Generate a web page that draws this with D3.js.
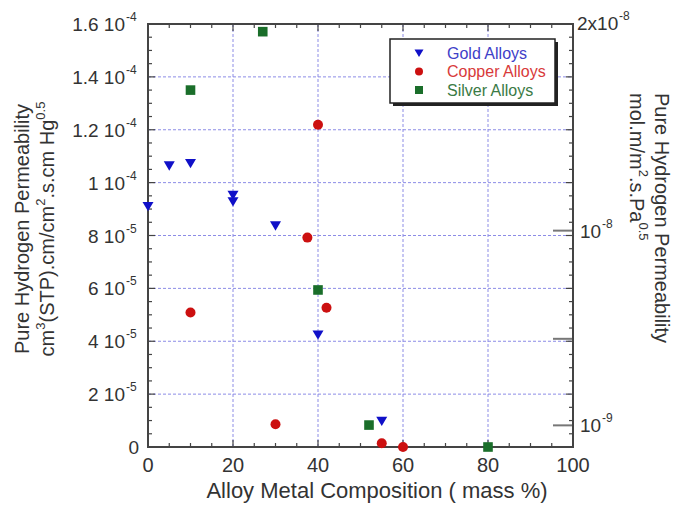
<!DOCTYPE html>
<html>
<head>
<meta charset="utf-8">
<script src="https://cdn.jsdelivr.net/npm/d3@7/dist/d3.min.js"></script>
<style>
  html, body { margin: 0; padding: 0; background: #fff; }
  svg { display: block; font-family: "Liberation Sans", Arial, sans-serif; }
</style>
</head>
<body>
<svg id="chart" width="678" height="511"></svg>
<script>
// Alloy composition (mass %) and pure hydrogen permeability, cm3(STP).cm/cm2.s.cmHg^0.5
const goldX   = [0, 5, 10, 20, 20, 30, 40, 55];
const goldY   = [0.91e-4, 1.064e-4, 1.073e-4, 0.953e-4, 0.928e-4, 0.837e-4, 0.424e-4, 0.098e-4];
const copperX = [40, 37.5, 10, 42, 30, 55, 60];
const copperY = [1.219e-4, 0.792e-4, 0.509e-4, 0.527e-4, 0.086e-4, 0.014e-4, 0];
const silverX = [27, 10, 40, 52, 80];
const silverY = [1.571e-4, 1.350e-4, 0.594e-4, 0.083e-4, 0];

const xTicks = [0, 20, 40, 60, 80, 100];
const yTicks = [0, 2e-5, 4e-5, 6e-5, 8e-5, 1e-4, 1.2e-4, 1.4e-4, 1.6e-4];
const yTickMant = ["0", "2", "4", "6", "8", "1", "1.2", "1.4", "1.6"];
const yTickExp  = ["", "-5", "-5", "-5", "-5", "-4", "-4", "-4", "-4"];
const rightTicks = [1e-9, 5e-9, 1e-8];
const rightTickMant = ["10", "", "10"];
const rightTickExp  = ["-9", "", "-8"];
const seriesNames = ["Gold Alloys", "Copper Alloys", "Silver Alloys"];

// cm3(STP).cm/cm2.s.cmHg^0.5  ->  mol.m/m2.s.Pa^0.5
const unitFactor = (1 / 22414) * 100 / Math.sqrt(1333.22);

const svg = d3.select("#chart");
const L = 148, R = 573, T = 24, B = 447;

const x = d3.scaleLinear().domain([0, 100]).range([L, R]);
const y = d3.scaleLinear().domain([0, 1.6e-4]).range([B, T]);
const yR = d3.scaleLinear().domain([0, 1.6e-4 * unitFactor]).range([B, T]);

const axisCol = "#444";
const textCol = "#333";

// grid
const grid = svg.append("g");
[20, 40, 60, 80].forEach(v => grid.append("line")
  .attr("x1", x(v)).attr("x2", x(v)).attr("y1", T).attr("y2", B)
  .attr("stroke", "#8c8ce6").attr("stroke-width", 1).attr("stroke-dasharray", "3,2"));
yTicks.slice(1, -1).forEach(v => grid.append("line")
  .attr("x1", L).attr("x2", R).attr("y1", y(v)).attr("y2", y(v))
  .attr("stroke", "#8c8ce6").attr("stroke-width", 1).attr("stroke-dasharray", "3,2"));

// minor / major ticks on all four sides, pointing inward
const ticks = svg.append("g").attr("stroke", axisCol).attr("stroke-width", 1.2);
d3.range(0, 101, 5).forEach(v => {
  const len = v % 20 === 0 ? 7 : 4;
  ticks.append("line").attr("x1", x(v)).attr("x2", x(v)).attr("y1", B).attr("y2", B - len);
  ticks.append("line").attr("x1", x(v)).attr("x2", x(v)).attr("y1", T).attr("y2", T + len);
});
d3.range(0, 33).map(i => i * 5e-6).forEach((v, i) => {
  const len = i % 4 === 0 ? 7 : 4;
  ticks.append("line").attr("x1", L).attr("x2", L + len).attr("y1", y(v)).attr("y2", y(v));
  ticks.append("line").attr("x1", R).attr("x2", R - len).attr("y1", y(v)).attr("y2", y(v));
});

// right-axis ticks (long, inward)
rightTicks.forEach(v => svg.append("line")
  .attr("x1", R - 20).attr("x2", R).attr("y1", yR(v)).attr("y2", yR(v))
  .attr("stroke", "#777").attr("stroke-width", 2));

// frame
svg.append("rect").attr("x", L).attr("y", T).attr("width", R - L).attr("height", B - T)
  .attr("fill", "none").attr("stroke", axisCol).attr("stroke-width", 2);

// left tick labels
const yl = svg.append("g").attr("fill", textCol).attr("font-size", 19);
yTicks.forEach((v, i) => {
  yl.append("text").attr("x", yTickExp[i] ? 125 : 139).attr("y", y(v) + 7)
    .attr("text-anchor", "end").text(yTickMant[i] + (yTickExp[i] ? " 10" : ""));
  if (yTickExp[i]) {
    yl.append("text").attr("x", 126).attr("y", y(v) - 3).attr("font-size", 12)
      .text(yTickExp[i]);
  }
});

// bottom tick labels
xTicks.forEach(v => svg.append("text").attr("x", x(v)).attr("y", 472)
  .attr("text-anchor", "middle").attr("font-size", 20).attr("fill", textCol).text(v));

// right tick labels
rightTicks.forEach((v, i) => {
  if (!rightTickMant[i]) return;
  svg.append("text").attr("x", 580).attr("y", yR(v) + 7).attr("font-size", 19)
    .attr("fill", textCol).text(rightTickMant[i]);
  svg.append("text").attr("x", 602).attr("y", yR(v) - 3).attr("font-size", 12)
    .attr("fill", textCol).text(rightTickExp[i]);
});
svg.append("text").attr("x", 577).attr("y", T + 6).attr("font-size", 19)
  .attr("fill", textCol).text("2x10");
svg.append("text").attr("x", 619).attr("y", T - 4).attr("font-size", 12)
  .attr("fill", textCol).text("-8");

// axis titles
svg.append("text").attr("x", 377).attr("y", 498).attr("text-anchor", "middle")
  .attr("font-size", 22).attr("fill", textCol).text("Alloy Metal Composition ( mass %)");

const lt = svg.append("g").attr("transform", "translate(29,229) rotate(-90)")
  .attr("fill", textCol).attr("font-size", 20).attr("text-anchor", "middle");
lt.append("text").attr("y", 0).text("Pure Hydrogen Permeability");
const lt2 = lt.append("text").attr("y", 25);
lt2.append("tspan").text("cm");
lt2.append("tspan").attr("font-size", 13).attr("dy", -9).text("3");
lt2.append("tspan").attr("dy", 9).text("(STP).cm/cm");
lt2.append("tspan").attr("font-size", 13).attr("dy", -9).text("2");
lt2.append("tspan").attr("dy", 9).text(".s.cm Hg");
lt2.append("tspan").attr("font-size", 13).attr("dy", -9).text("0.5");

const rt = svg.append("g").attr("transform", "translate(655,93) rotate(90)")
  .attr("fill", textCol).attr("font-size", 20);
rt.append("text").attr("y", 0).text("Pure Hydrogen Permeability");
const rt2 = rt.append("text").attr("y", 25);
rt2.append("tspan").text("mol.m/m");
rt2.append("tspan").attr("font-size", 13).attr("dy", -9).text("2");
rt2.append("tspan").attr("dy", 9).text(".s.Pa");
rt2.append("tspan").attr("font-size", 13).attr("dy", -9).text("0.5");

// markers
const colors = ["#1010c8", "#cc1010", "#1a6e2a"];
const triPath = s => `M${-s},${-s * 0.8}L${s},${-s * 0.8}L0,${s * 0.9}Z`;
function drawMarker(g, kind, cx, cy, s) {
  if (kind === 0) g.append("path").attr("d", triPath(s)).attr("transform", `translate(${cx},${cy})`).attr("fill", colors[0]);
  else if (kind === 1) g.append("circle").attr("cx", cx).attr("cy", cy).attr("r", s).attr("fill", colors[1]);
  else g.append("rect").attr("x", cx - s).attr("y", cy - s).attr("width", 2 * s).attr("height", 2 * s).attr("fill", colors[2]);
}
const marks = svg.append("g");
goldX.forEach((v, i) => drawMarker(marks, 0, x(v), y(goldY[i]), 5.5));
copperX.forEach((v, i) => drawMarker(marks, 1, x(v), y(copperY[i]), 5));
silverX.forEach((v, i) => drawMarker(marks, 2, x(v), y(silverY[i]), 4.8));

// legend
const lg = svg.append("g");
lg.append("rect").attr("x", 393).attr("y", 42).attr("width", 165).attr("height", 64).attr("fill", "#222");
lg.append("rect").attr("x", 390).attr("y", 39).attr("width", 165).attr("height", 64)
  .attr("fill", "#fff").attr("stroke", "#222").attr("stroke-width", 1.5);
const legTextCol = ["#4040c8", "#d83a3a", "#3a7a45"];
seriesNames.forEach((n, i) => {
  const cy = 53 + i * 18.5;
  drawMarker(lg, i, 419, cy, i === 0 ? 4.5 : 4);
  lg.append("text").attr("x", 447).attr("y", cy + 5.5).attr("font-size", 16)
    .attr("fill", legTextCol[i]).text(n);
});
</script>
</body>
</html>
